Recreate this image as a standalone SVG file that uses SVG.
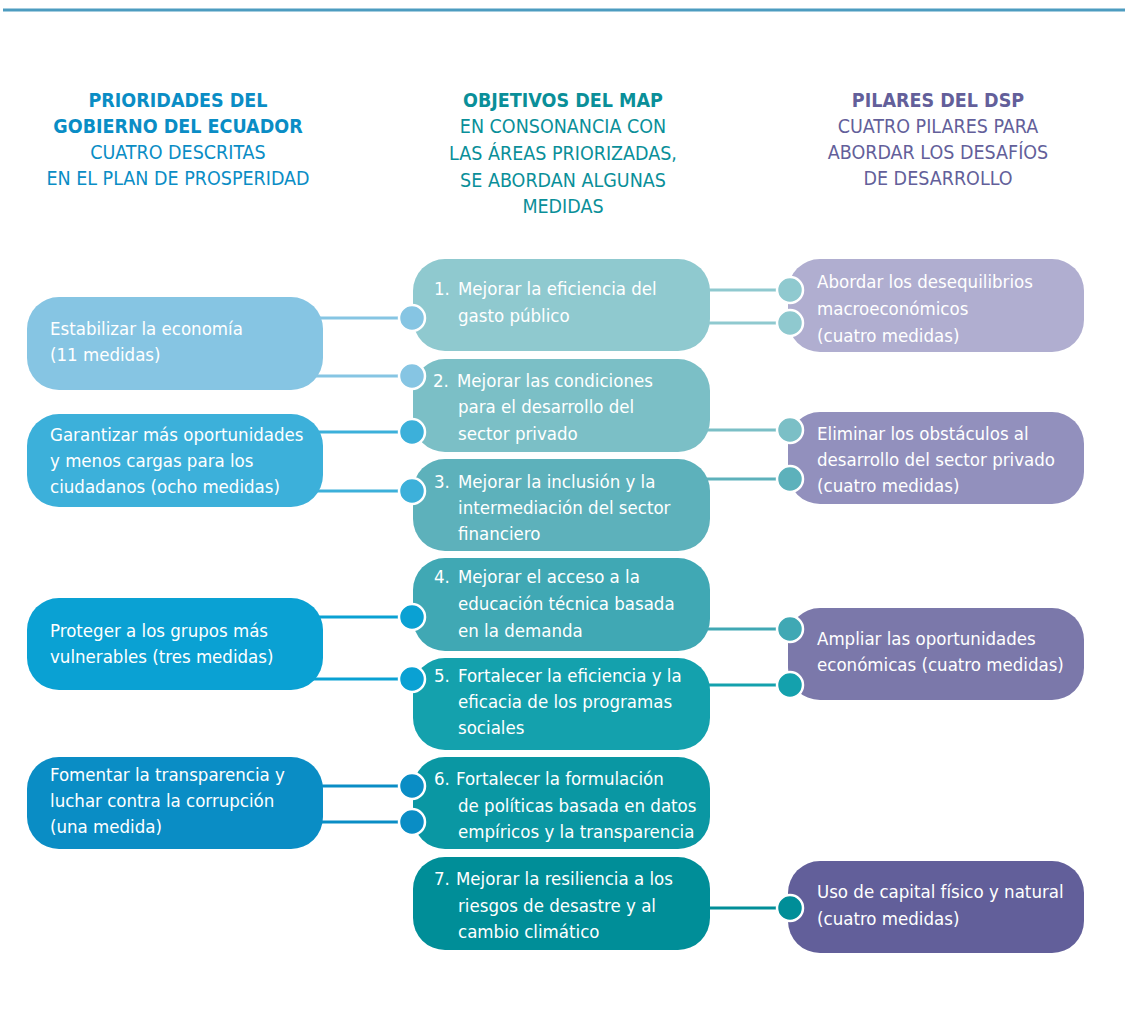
<svg xmlns="http://www.w3.org/2000/svg" width="1125" height="1012" viewBox="0 0 1125 1012">
<style>
text{font-family:"DejaVu Sans Condensed","Liberation Sans Narrow","Liberation Sans",sans-serif;}
.h{font-size:19.5px;text-anchor:middle;}
.hb{font-weight:bold;}
.t{font-size:18.5px;fill:#ffffff;}
.dot{stroke:#ffffff;stroke-width:2.5;}
.ln{stroke-width:3;fill:none;}
</style>
<rect width="1125" height="1012" fill="#ffffff"/>
<line x1="3" y1="10" x2="1125" y2="10" stroke="#4d9cc0" stroke-width="3"/>
<g id="headers">
<g fill="#0a8dc5"><text class="h hb" x="178" y="107">PRIORIDADES DEL</text><text class="h hb" x="178" y="133">GOBIERNO DEL ECUADOR</text><text class="h" x="178" y="159">CUATRO DESCRITAS</text><text class="h" x="178" y="185">EN EL PLAN DE PROSPERIDAD</text></g>
<g fill="#0a8f99"><text class="h hb" x="563" y="107">OBJETIVOS DEL MAP</text><text class="h" x="563" y="133">EN CONSONANCIA CON</text><text class="h" x="563" y="160">LAS ÁREAS PRIORIZADAS,</text><text class="h" x="563" y="187">SE ABORDAN ALGUNAS</text><text class="h" x="563" y="213">MEDIDAS</text></g>
<g fill="#635f9a"><text class="h hb" x="938" y="107">PILARES DEL DSP</text><text class="h" x="938" y="133">CUATRO PILARES PARA</text><text class="h" x="938" y="159">ABORDAR LOS DESAFÍOS</text><text class="h" x="938" y="185">DE DESARROLLO</text></g>
</g>
<g id="L1"><rect x="27" y="297" width="296" height="93" rx="32" fill="#86c5e3"/><text class="t" x="50" y="335">Estabilizar la economía</text><text class="t" x="50" y="361">(11 medidas)</text></g>
<g id="L2"><rect x="27" y="414" width="296" height="93" rx="32" fill="#3cb0da"/><text class="t" x="50" y="441">Garantizar más oportunidades</text><text class="t" x="50" y="467">y menos cargas para los</text><text class="t" x="50" y="493">ciudadanos (ocho medidas)</text></g>
<g id="L3"><rect x="27" y="598" width="296" height="92" rx="32" fill="#0aa1d3"/><text class="t" x="50" y="637">Proteger a los grupos más</text><text class="t" x="50" y="663">vulnerables (tres medidas)</text></g>
<g id="L4"><rect x="27" y="757" width="296" height="92" rx="32" fill="#0a8dc5"/><text class="t" x="50" y="781">Fomentar la transparencia y</text><text class="t" x="50" y="807">luchar contra la corrupción</text><text class="t" x="50" y="833">(una medida)</text></g>
<g id="M1"><rect x="413" y="259" width="297" height="92" rx="32" fill="#8fc9cf"/><text class="t" x="434" y="295">1.</text><text class="t" x="458" y="295">Mejorar la eficiencia del</text><text class="t" x="458" y="322">gasto público</text></g>
<g id="M2"><rect x="413" y="359" width="297" height="93" rx="32" fill="#7bbfc6"/><text class="t" x="433" y="387">2.</text><text class="t" x="457" y="387">Mejorar las condiciones</text><text class="t" x="458" y="413">para el desarrollo del</text><text class="t" x="458" y="440">sector privado</text></g>
<g id="M3"><rect x="413" y="459" width="297" height="92" rx="32" fill="#5db1bb"/><text class="t" x="434" y="488">3.</text><text class="t" x="458" y="488">Mejorar la inclusión y la</text><text class="t" x="458" y="514">intermediación del sector</text><text class="t" x="458" y="540">financiero</text></g>
<g id="M4"><rect x="413" y="558" width="297" height="93" rx="32" fill="#40a8b4"/><text class="t" x="434" y="583">4.</text><text class="t" x="458" y="583">Mejorar el acceso a la</text><text class="t" x="458" y="610">educación técnica basada</text><text class="t" x="458" y="637">en la demanda</text></g>
<g id="M5"><rect x="413" y="658" width="297" height="92" rx="32" fill="#14a1ad"/><text class="t" x="434" y="682">5.</text><text class="t" x="458" y="682">Fortalecer la eficiencia y la</text><text class="t" x="458" y="708">eficacia de los programas</text><text class="t" x="458" y="734">sociales</text></g>
<g id="M6"><rect x="413" y="757" width="297" height="92" rx="32" fill="#0a97a3"/><text class="t" x="434" y="785">6.</text><text class="t" x="456" y="785">Fortalecer la formulación</text><text class="t" x="458" y="812">de políticas basada en datos</text><text class="t" x="458" y="838">empíricos y la transparencia</text></g>
<g id="M7"><rect x="413" y="857" width="297" height="93" rx="32" fill="#008e98"/><text class="t" x="434" y="885">7.</text><text class="t" x="456" y="885">Mejorar la resiliencia a los</text><text class="t" x="458" y="912">riesgos de desastre y al</text><text class="t" x="458" y="938">cambio climático</text></g>
<g id="R1"><rect x="788" y="259" width="296" height="93" rx="32" fill="#b0aed0"/><text class="t" x="817" y="288">Abordar los desequilibrios</text><text class="t" x="817" y="315">macroeconómicos</text><text class="t" x="817" y="342">(cuatro medidas)</text></g>
<g id="R2"><rect x="788" y="412" width="296" height="92" rx="32" fill="#9290bd"/><text class="t" x="817" y="440">Eliminar los obstáculos al</text><text class="t" x="817" y="466">desarrollo del sector privado</text><text class="t" x="817" y="492">(cuatro medidas)</text></g>
<g id="R3"><rect x="788" y="608" width="296" height="92" rx="32" fill="#7b78aa"/><text class="t" x="817" y="645">Ampliar las oportunidades</text><text class="t" x="817" y="671">económicas (cuatro medidas)</text></g>
<g id="R4"><rect x="788" y="861" width="296" height="92" rx="32" fill="#625f9a"/><text class="t" x="817" y="898">Uso de capital físico y natural</text><text class="t" x="817" y="925">(cuatro medidas)</text></g>
<g id="connectors">
<g class="ln"><line x1="315" y1="318" x2="412" y2="318" stroke="#86c5e3"/><line x1="315" y1="376" x2="412" y2="376" stroke="#86c5e3"/>
<line x1="315" y1="432" x2="412" y2="432" stroke="#3cb0da"/><line x1="315" y1="491" x2="412" y2="491" stroke="#3cb0da"/>
<line x1="313" y1="617" x2="412" y2="617" stroke="#0aa1d3"/><line x1="313" y1="679" x2="412" y2="679" stroke="#0aa1d3"/>
<line x1="315" y1="786" x2="412" y2="786" stroke="#0a8dc5"/><line x1="315" y1="822" x2="412" y2="822" stroke="#0a8dc5"/>
<line x1="704" y1="290" x2="790" y2="290" stroke="#8fc9cf"/><line x1="704" y1="323" x2="790" y2="323" stroke="#8fc9cf"/>
<line x1="704" y1="430" x2="790" y2="430" stroke="#7bbfc6"/><line x1="704" y1="479" x2="790" y2="479" stroke="#5db1bb"/>
<line x1="704" y1="629" x2="790" y2="629" stroke="#40a8b4"/><line x1="704" y1="685" x2="790" y2="685" stroke="#14a1ad"/>
<line x1="704" y1="908" x2="790" y2="908" stroke="#008e98"/></g>
<g class="dot"><circle cx="412" cy="318" r="13" fill="#86c5e3"/><circle cx="412" cy="376" r="13" fill="#86c5e3"/>
<circle cx="412" cy="432" r="13" fill="#3cb0da"/><circle cx="412" cy="491" r="13" fill="#3cb0da"/>
<circle cx="412" cy="617" r="13" fill="#0aa1d3"/><circle cx="412" cy="679" r="13" fill="#0aa1d3"/>
<circle cx="412" cy="786" r="13" fill="#0a8dc5"/><circle cx="412" cy="822" r="13" fill="#0a8dc5"/>
<circle cx="790" cy="290" r="13" fill="#8fc9cf"/><circle cx="790" cy="323" r="13" fill="#8fc9cf"/>
<circle cx="790" cy="430" r="13" fill="#7bbfc6"/><circle cx="790" cy="479" r="13" fill="#5db1bb"/>
<circle cx="790" cy="629" r="13" fill="#40a8b4"/><circle cx="790" cy="685" r="13" fill="#14a1ad"/>
<circle cx="790" cy="908" r="13" fill="#008e98"/></g>
</g>
</svg>
